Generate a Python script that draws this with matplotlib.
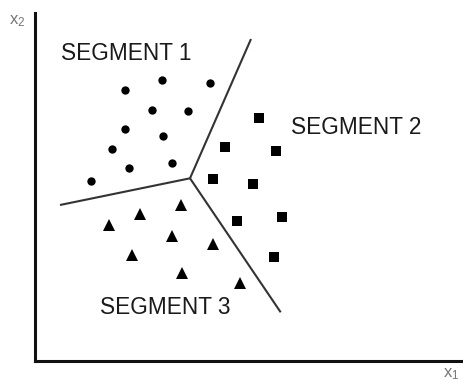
import matplotlib

matplotlib.use("Agg")
import matplotlib.pyplot as plt

plt.rcParams.update({
    "font.family": ["Liberation Sans", "DejaVu Sans"],
    "mathtext.default": "regular",
})

# customer positions in (x1, x2) feature space, grouped by segment
seg1_x1 = [89.5, 126.2, 174.5, 116.8, 152.8, 89.5, 127.2, 76.2, 93.5, 136.2, 55.2]
seg1_x2 = [271, 281, 278.3, 251, 250.3, 232, 225, 211.7, 192.7, 197.7, 180.3]

seg2_x1 = [223.5, 189.5, 240.5, 177.2, 217.8, 201.8, 246.8, 238.5]
seg2_x2 = [242.7, 213.7, 210.3, 181.7, 176.7, 140.3, 144.3, 104.3]

seg3_x1 = [73.8, 104.5, 145.2, 136.2, 96.2, 177.8, 146.8, 204.5]
seg3_x2 = [136, 147, 156, 125, 106, 117, 88.3, 78.3]

# segment boundaries: three rays from a common junction
junction = (154.5, 182.7)
ray_ends_x1 = [215.5, 24.5, 245.2]
ray_ends_x2 = [322, 156, 48.7]

seg_labels = ["SEGMENT 1", "SEGMENT 2", "SEGMENT 3"]
label_x1 = [91.2, 320.5, 129.5]
label_x2 = [307, 234, 53.5]

W, H = 464, 381
fig = plt.figure(figsize=(W / 100, H / 100), dpi=100)
ox, oy, top = 35.5, 361, 13
ax = fig.add_axes([ox / W, (H - oy) / H, (W - ox) / W, (oy - top) / H])
ax.set_xlim(0, W - ox)
ax.set_ylim(0, oy - top)

for s in ("top", "right"):
    ax.spines[s].set_visible(False)
for s in ("left", "bottom"):
    ax.spines[s].set_linewidth(2.2)
    ax.spines[s].set_color("#111111")
ax.set_xticks([])
ax.set_yticks([])

for ex, ey in zip(ray_ends_x1, ray_ends_x2):
    ax.plot([junction[0], ex], [junction[1], ey], color="#333333", lw=1.5,
            solid_capstyle="butt", zorder=2)

ax.plot(seg1_x1, seg1_x2, "o", color="black", ms=6.0, mew=0, zorder=3)
ax.plot(seg2_x1, seg2_x2, "s", color="black", ms=7.3, mew=0, zorder=3)
ax.plot(seg3_x1, seg3_x2, "^", color="black", ms=8.2, mew=0, zorder=3)

for txt, x, y in zip(seg_labels, label_x1, label_x2):
    ax.text(x, y, txt, ha="center", va="center", fontsize=16.3, color="#1a1a1a")

# axis names
fig.text(17 / W, 1 - 21 / H, r"$x_2$", ha="center", va="center", fontsize=12, color="#777777")
fig.text(451 / W, 1 - 374 / H, r"$x_1$", ha="center", va="center", fontsize=12, color="#777777")

fig.savefig("out.png", dpi=100)
